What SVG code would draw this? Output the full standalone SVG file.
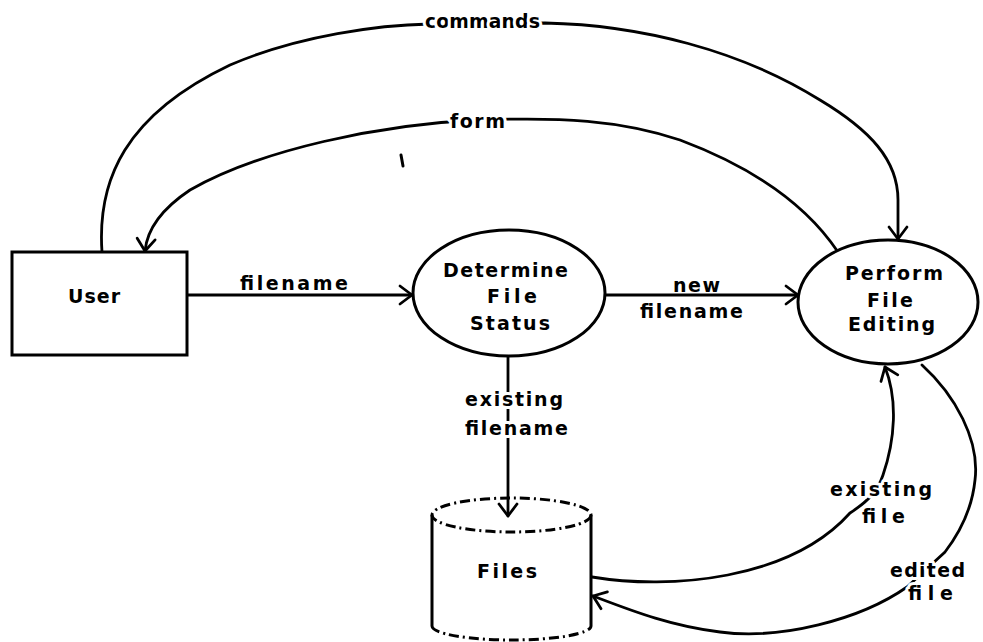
<svg xmlns="http://www.w3.org/2000/svg" width="983" height="642" viewBox="0 0 983 642">
  <defs>
    <marker id="arrow" markerUnits="userSpaceOnUse" markerWidth="30" markerHeight="30" refX="0" refY="0" viewBox="-15 -15 30 30" orient="auto" overflow="visible">
      <path d="M-12,-9 L0,0 L-12,9" fill="none" stroke="#000" stroke-width="2.8" stroke-linecap="round" stroke-linejoin="round"/>
    </marker>
    <style>
      .shape { fill: #fff; stroke: #000; stroke-width: 3; }
      .dash { fill: none; stroke: #000; stroke-width: 3; stroke-dasharray: 10 4 2 4; }
      .edge { fill: none; stroke: #000; stroke-width: 2.8; stroke-linecap: round; marker-end: url(#arrow); }
      .lbl { font-family: "DejaVu Sans", "Liberation Sans", sans-serif; font-weight: bold; font-size: 19px; fill: #000; }
      .halo { stroke: #fff; stroke-width: 6; paint-order: stroke; stroke-linejoin: round; }
    </style>
  </defs>
  <rect width="983" height="642" fill="#fff"/>

  <g id="connectors">
    <path id="e-commands" class="edge" d="M102,252 C97,180 125,115 230,65 C300,35 380,25 430,24 L545,23 C640,25 740,50 820,100 C870,130 898,160 898,200 L898,239"/>
    <path id="e-form" class="edge" d="M838,252 C810,210 760,170 680,140 C620,120 560,117 480,120 C380,124 260,150 190,190 C160,210 147,230 145,251"/>
    <path id="e-filename" class="edge" d="M187,295 L412,295"/>
    <path id="e-newfilename" class="edge" d="M605,295 L798,295"/>
    <path id="e-existingfilename" class="edge" d="M508,357 L508,516"/>
    <path id="e-existingfile" class="edge" d="M592,577 C670,590 790,580 850,513 C870,500 878,490 883,475 C895,440 898,400 885,367"/>
    <path id="e-editedfile" class="edge" d="M922,365 C955,395 980,440 975,480 C972,510 958,535 945,552 L907,587 C860,620 780,640 720,632 C670,626 630,610 593,596"/>
    <path id="stray-mark" d="M401,155 L403,166" fill="none" stroke="#000" stroke-width="3" stroke-linecap="round"/>
  </g>

  <g id="edge-labels">
    <text class="lbl halo" x="425" y="28" textLength="115">commands</text>
    <text class="lbl halo" x="450" y="128" textLength="55">form</text>
    <text class="lbl" x="240" y="290" textLength="108">filename</text>
    <text class="lbl" x="673" y="292" textLength="47">new</text>
    <text class="lbl" x="640" y="318" textLength="103">filename</text>
    <text class="lbl halo" x="465" y="406" textLength="98">existing</text>
    <text class="lbl halo" x="465" y="435" textLength="103">filename</text>
    <text class="lbl halo" x="830" y="496" textLength="102">existing</text>
    <text class="lbl halo" x="862" y="523" textLength="43">file</text>
    <text class="lbl halo" x="890" y="577" textLength="75">edited</text>
    <text class="lbl halo" x="908" y="600" textLength="45">file</text>
  </g>

  <g id="user">
    <rect class="shape" x="12" y="252" width="175" height="103"/>
    <text class="lbl" x="68" y="303" textLength="52">User</text>
  </g>

  <g id="determine-file-status">
    <ellipse class="shape" cx="509" cy="293" rx="96" ry="63"/>
    <text class="lbl" x="443" y="277" textLength="125">Determine</text>
    <text class="lbl" x="487" y="303" textLength="50">File</text>
    <text class="lbl" x="470" y="330" textLength="80">Status</text>
  </g>

  <g id="perform-file-editing">
    <ellipse class="shape" cx="888" cy="302" rx="90" ry="62"/>
    <text class="lbl" x="845" y="280" textLength="98">Perform</text>
    <text class="lbl" x="867" y="307" textLength="46">File</text>
    <text class="lbl" x="848" y="331" textLength="87">Editing</text>
  </g>

  <g id="files">
    <path d="M432,515 L432,626 M591,515 L591,626" fill="none" stroke="#000" stroke-width="3"/>
    <ellipse class="dash" cx="511.5" cy="515" rx="79.5" ry="17"/>
    <path class="dash" d="M432,626 A79.5,14 0 0 0 591,626"/>
    <text class="lbl" x="477" y="578" textLength="60">Files</text>
  </g>
</svg>
